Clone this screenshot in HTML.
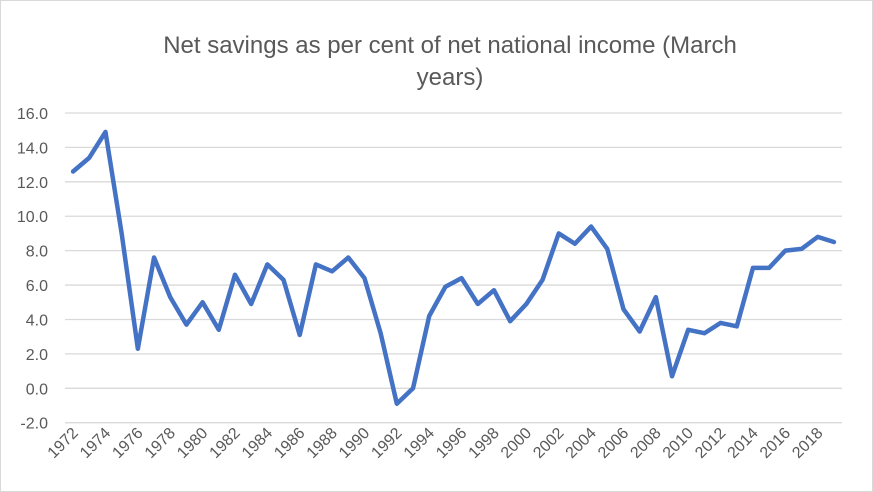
<!DOCTYPE html>
<html><head><meta charset="utf-8"><style>
body{margin:0;background:#fff;}
svg{display:block;font-family:"Liberation Sans",Calibri,sans-serif;}
</style></head><body>
<svg id="chart" width="873" height="492">
<rect x="0.5" y="0.5" width="872" height="491" fill="#fff" stroke="#d9d9d9"/>
<text x="450" y="53" text-anchor="middle" font-size="24" fill="#595959">Net savings as per cent of net national income (March</text>
<text x="450" y="85" text-anchor="middle" font-size="24" fill="#595959">years)</text>
<g id="grid"></g><g id="yticks"></g><g id="xticks"></g><g id="series"></g>
</svg>
<script>
const years=[1972,1973,1974,1975,1976,1977,1978,1979,1980,1981,1982,1983,1984,1985,1986,1987,1988,1989,1990,1991,1992,1993,1994,1995,1996,1997,1998,1999,2000,2001,2002,2003,2004,2005,2006,2007,2008,2009,2010,2011,2012,2013,2014,2015,2016,2017,2018,2019];
const values=[12.6,13.4,14.9,9.0,2.3,7.6,5.3,3.7,5.0,3.4,6.6,4.9,7.2,6.3,3.1,7.2,6.8,7.6,6.4,3.2,-0.9,0.0,4.2,5.9,6.4,4.9,5.7,3.9,4.9,6.3,9.0,8.4,9.4,8.1,4.6,3.3,5.3,0.7,3.4,3.2,3.8,3.6,7.0,7.0,8.0,8.1,8.8,8.5];
const yTicks=[-2,0,2,4,6,8,10,12,14,16];
const NS="http://www.w3.org/2000/svg";
const L=65,R=842,T=113,B=422.7,yMin=-2,yMax=16;
const y=v=>B-(v-yMin)/(yMax-yMin)*(B-T);
const step=(R-L)/years.length;
const x=i=>L+step*(i+0.5);
function mk(tag,parent,attrs){const e=document.createElementNS(NS,tag);for(const k in attrs)e.setAttribute(k,attrs[k]);document.getElementById(parent).appendChild(e);return e;}
yTicks.forEach(t=>{
 const g=mk('line','grid',{x1:L,x2:R,y1:y(t),y2:y(t),stroke:'#d9d9d9','stroke-width':1.3});
 
 
 const lb=mk('text','yticks',{x:48,y:y(t)+6,'text-anchor':'end','font-size':16,fill:'#595959'});
 lb.textContent=t.toFixed(1);
 
 
});
years.forEach((yr,i)=>{
 if(i%2)return;
 const tx=x(i)+6,ty=434;
 const lb=mk('text','xticks',{x:tx,y:ty,'text-anchor':'end','font-size':16,fill:'#595959',transform:`rotate(-45 ${tx} ${ty})`});
 lb.textContent=yr;
 
 
});
const p=mk('polyline','series',{points:values.map((v,i)=>x(i)+','+y(v)).join(' '),fill:'none',stroke:'#4472c4','stroke-width':4.5,'stroke-linejoin':'round','stroke-linecap':'round'});


</script>
</body></html>
